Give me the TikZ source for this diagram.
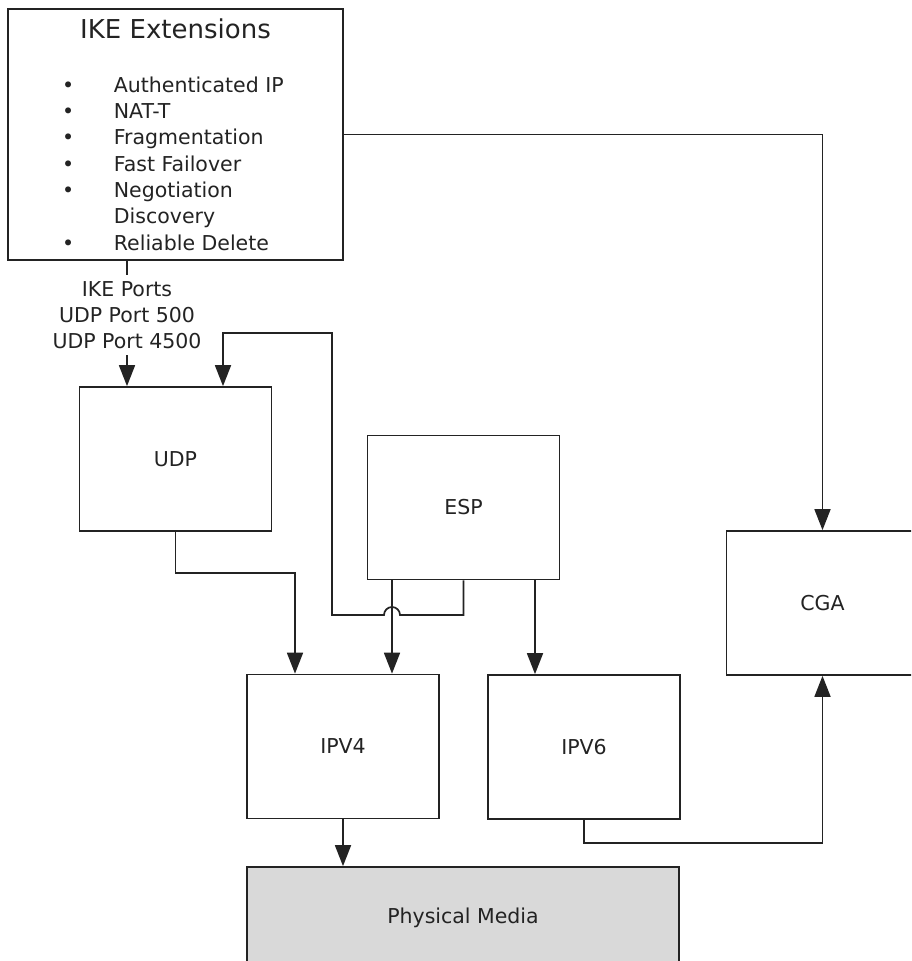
\documentclass[tikz,border=0pt]{standalone}
\usepackage{fontspec}
\setmainfont{DejaVu Sans}
\usetikzlibrary{arrows.meta}
\definecolor{boxline}{RGB}{35,35,35}
\definecolor{boxtext}{RGB}{35,35,35}
\definecolor{mediagray}{RGB}{217,217,217}
\newcommand{\labelfont}{\fontsize{20.5}{26.3}\selectfont}
\newcommand{\headfont}{\fontsize{26}{30}\selectfont}

\begin{document}
\begin{tikzpicture}[x=1pt,y=-1pt,
    layerbox/.style={draw=boxline,line width=1.7pt,fill=white,inner sep=0pt,
      text=boxtext,font=\labelfont,minimum width=192pt,minimum height=144pt},
    plaintext/.style={text=boxtext,font=\labelfont,inner sep=0pt},
    link/.style={draw=boxline,line width=1.7pt},
    flow/.style={link,-{Triangle[length=21pt,width=16pt]}}]
  \useasboundingbox (0,0) rectangle (911,961);
  \clip (0,0) rectangle (911,961);

  % protocol boxes
  \node[layerbox,minimum width=335pt,minimum height=251pt] (ike) at (175.5,134.5) {};
  \node[layerbox] (udp)  at (175.5,459)   {UDP};
  \node[layerbox] (esp)  at (463.5,507.5) {ESP};
  \node[layerbox] (cga)  at (822.5,603)   {CGA};
  \node[layerbox] (ipv4) at (343,746.5)   {IPV4};
  \node[layerbox] (ipv6) at (584,747)     {IPV6};
  \node[layerbox,fill=mediagray,minimum width=432pt,minimum height=101pt]
    (media) at (463,917.5) {\raisebox{4pt}{Physical Media}};

  % contents of the IKE box
  \node[plaintext,font=\headfont,anchor=base] (iketitle) at (175.5,38) {IKE Extensions};
  \node[plaintext,anchor=north west] (ikelist) at (62,73.7) {%
    \begin{tabular}{@{}l@{\hspace{39.6pt}}l@{}}
      \textbullet & Authenticated IP\\
      \textbullet & NAT-T\\
      \textbullet & Fragmentation\\
      \textbullet & Fast Failover\\
      \textbullet & Negotiation\\
                  & Discovery\\
      \textbullet & Reliable Delete
    \end{tabular}};
  \node[plaintext,align=center,inner ysep=6pt,anchor=north] (ports) at (127,275)
    {IKE Ports\\UDP Port 500\\UDP Port 4500};

  % connectors
  \draw[link] (ike.south -| ports.north) -- (ports.north);
  \draw[flow] (ports.south) -- (ports.south |- udp.north);
  \draw[flow] (esp.south) |- (400,615) arc[start angle=0,end angle=180,radius=8pt]
    -- (332,615) -- (332,333) -| ([xshift=47.5pt]udp.north);
  \draw[flow] (udp.south) -- ++(0,41) -| ([xshift=-48pt]ipv4.north);
  \draw[flow] ([xshift=-71.5pt]esp.south) -- ([xshift=49pt]ipv4.north);
  \draw[flow] ([xshift=71.5pt]esp.south) -- ([xshift=-49pt]ipv6.north);
  \draw[flow] (ike.east) -| (cga.north);
  \draw[flow] (ipv6.south) -- ++(0,23) -| (cga.south);
  \draw[flow] (ipv4.south) -- ([xshift=-120pt]media.north);
\end{tikzpicture}
\end{document}
